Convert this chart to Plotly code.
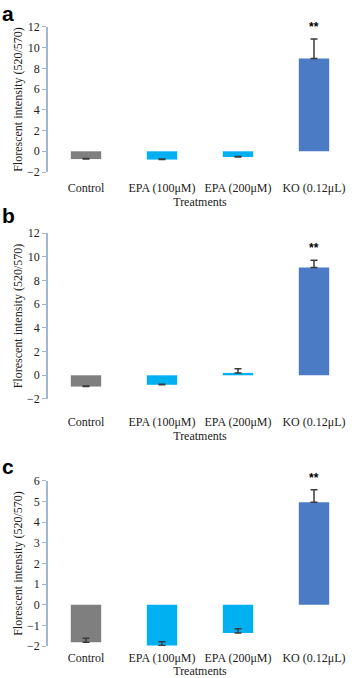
import plotly.graph_objects as go

categories = ["Control", "EPA (100μM)", "EPA (200μM)", "KO (0.12μL)"]

values_a = [-0.75, -0.8, -0.55, 8.95]
errors_a = [0.05, 0.05, 0.05, 1.9]
values_b = [-0.95, -0.8, 0.2, 9.1]
errors_b = [0.05, 0.05, 0.35, 0.6]
values_c = [-1.82, -1.97, -1.37, 4.97]
errors_c = [0.2, 0.17, 0.2, 0.6]

panels = [
    dict(label="a", values=values_a, errors=errors_a, yrange=[-2, 12], dtick=2,
         dom=[0.7463, 0.9602], lab_gap=5, let_y=0.9600),
    dict(label="b", values=values_b, errors=errors_b, yrange=[-2, 12], dtick=2,
         dom=[0.4115, 0.6563], lab_gap=12, let_y=0.6622),
    dict(label="c", values=values_c, errors=errors_c, yrange=[-2, 6], dtick=1,
         dom=[0.0472, 0.2906], lab_gap=1, let_y=0.2920),
]

bar_colors = ["#7f7f7f", "#00b0f0", "#00b0f0", "#4a7bc4"]
font_family = "Liberation Serif, Times New Roman, serif"
axis_color = "#9fb7cf"
zero_color = "#6f8fae"
xdom = [48 / 357, 352 / 357]

fig = go.Figure()
layout = dict(
    width=357, height=678,
    margin=dict(l=0, r=0, t=0, b=0),
    paper_bgcolor="white", plot_bgcolor="white",
    showlegend=False,
    font=dict(family=font_family, size=12, color="#222"),
    annotations=[],
)

for i, p in enumerate(panels):
    n = i + 1
    xa = "x" if n == 1 else f"x{n}"
    ya = "y" if n == 1 else f"y{n}"
    fig.add_trace(go.Bar(
        x=categories, y=p["values"], xaxis=xa, yaxis=ya,
        width=0.4,
        marker=dict(color=bar_colors, line=dict(width=0)),
        error_y=dict(type="data", array=p["errors"], arrayminus=[0] * 4, symmetric=False,
                     color="#3a3a3a", thickness=1.5, width=3.5),
        hoverinfo="skip",
    ))
    layout["annotations"].append(dict(
        x=categories[3], y=p["values"][3] + p["errors"][3], xref=xa, yref=ya,
        text="<b>**</b>", showarrow=False, yanchor="bottom", yshift=3,
        font=dict(family="Liberation Sans, Arial", size=12, color="black"),
    ))
    layout["annotations"].append(dict(
        x=0.0, y=p["let_y"], xref="paper", yref="paper",
        xanchor="left", yanchor="bottom", text=f"<b>{p['label']}</b>", showarrow=False,
        font=dict(family="Liberation Sans, Arial", size=21, color="black"),
    ))
    xkey = "xaxis" if n == 1 else f"xaxis{n}"
    ykey = "yaxis" if n == 1 else f"yaxis{n}"
    layout[xkey] = dict(
        domain=xdom, anchor=ya, type="category", categoryorder="array", categoryarray=categories,
        range=[-0.5, 3.5], showline=False, showgrid=False, zeroline=False,
        ticks="outside", ticklen=p["lab_gap"], tickcolor="rgba(0,0,0,0)",
        tickfont=dict(family=font_family, size=12, color="#222"),
        title=dict(text="Treatments", standoff=2, font=dict(family=font_family, size=12, color="#222")),
        automargin=False, fixedrange=True,
    )
    layout[ykey] = dict(
        domain=p["dom"], anchor=xa, range=p["yrange"], dtick=p["dtick"],
        showline=True, linecolor=axis_color, linewidth=1.5,
        ticks="outside", ticklen=4, tickcolor=axis_color,
        showgrid=False, zeroline=False,
        tickfont=dict(family=font_family, size=12, color="#222"),
        title=dict(text="Florescent intensity (520/570)", standoff=2,
                   font=dict(family=font_family, size=12, color="#222")),
        automargin=False, fixedrange=True,
    )
    lo, hi = p["yrange"]
    zero_pos = p["dom"][0] + (0 - lo) / (hi - lo) * (p["dom"][1] - p["dom"][0])
    okey = f"xaxis{n + 3}"
    layout[okey] = dict(
        domain=xdom, overlaying=xa, anchor="free", position=zero_pos,
        range=[-0.5, 3.5], tickvals=[0.5, 1.5, 2.5, 3.5], showticklabels=False,
        ticks="outside", ticklen=4, tickcolor=zero_color,
        showline=True, linecolor=zero_color, linewidth=1.2,
        showgrid=False, zeroline=False, fixedrange=True,
    )

fig.update_layout(**layout)
fig.write_html("out.html", config={"displayModeBar": False},
               post_script="document.body.style.margin='0';document.body.style.padding='0';")
